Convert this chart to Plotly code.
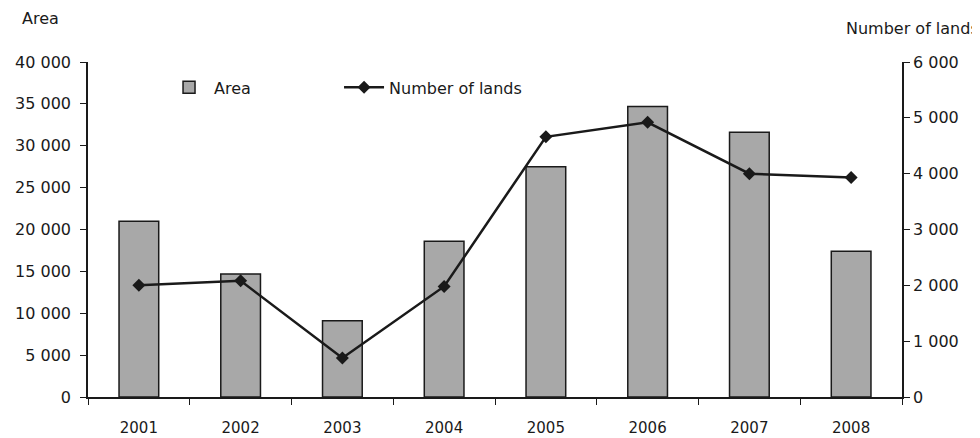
import plotly.graph_objects as go

years = ["2001", "2002", "2003", "2004", "2005", "2006", "2007", "2008"]
area = [21000, 14700, 9100, 18600, 27500, 34700, 31600, 17400]
lands = [2000, 2080, 700, 1980, 4660, 4920, 4000, 3930]

left_ticks = [0, 5000, 10000, 15000, 20000, 25000, 30000, 35000, 40000]
right_ticks = [0, 1000, 2000, 3000, 4000, 5000, 6000]

FONT = "DejaVu Sans"
INK = "#1a1a1a"

fig = go.Figure()
fig.add_trace(go.Bar(
    x=years, y=area, name="Area", width=0.39, legend="legend",
    marker=dict(color="#a8a8a8", line=dict(color=INK, width=1.5)),
))
fig.add_trace(go.Scatter(
    x=years, y=lands, name="Number of lands", yaxis="y2", legend="legend2",
    mode="lines+markers",
    line=dict(color=INK, width=2.5),
    marker=dict(symbol="diamond", size=10, color=INK),
))

leg_common = dict(orientation="h", y=0.975, xanchor="left", yanchor="top",
                  bgcolor="rgba(0,0,0,0)", font=dict(size=16), itemwidth=40)

# page has an 8px body margin, so the figure is sized/offset to compensate
fig.update_layout(
    width=972, height=430,
    margin=dict(l=80, r=78, t=54, b=41, autoexpand=False),
    paper_bgcolor="white", plot_bgcolor="white",
    separators=", ",
    font=dict(family=FONT, size=16, color=INK),
    showlegend=True,
    legend=dict(x=0.0934, **leg_common),
    legend2=dict(x=0.3084, **leg_common),
    xaxis=dict(
        type="category", categoryorder="array", categoryarray=years,
        showline=True, linecolor=INK, linewidth=1.5,
        ticks="outside", ticklen=6, tickcolor=INK, tickson="boundaries",
        showgrid=False, zeroline=False, range=[-0.5, 7.5],
        tickfont=dict(size=15), ticklabelstandoff=16, automargin=False,
    ),
    yaxis=dict(
        range=[0, 40000], tickvals=left_ticks, tickformat=",d",
        showline=True, linecolor=INK, linewidth=1.5,
        ticks="outside", ticklen=6, tickcolor=INK,
        showgrid=False, zeroline=False, tickfont=dict(size=16),
        ticklabelstandoff=6, automargin=False,
    ),
    yaxis2=dict(
        range=[0, 6000], tickvals=right_ticks, tickformat=",d",
        overlaying="y", side="right", anchor="x",
        showline=True, linecolor=INK, linewidth=1.5,
        ticks="outside", ticklen=6, tickcolor=INK,
        showgrid=False, zeroline=False, tickfont=dict(size=16),
        automargin=False,
    ),
    annotations=[
        dict(text="Area", xref="paper", yref="paper", x=-0.0835, y=1.131,
             xanchor="left", yanchor="middle", showarrow=False, font=dict(size=16)),
        dict(text="Number of lands", xref="paper", yref="paper", x=0.929, y=1.101,
             xanchor="left", yanchor="middle", showarrow=False, font=dict(size=16)),
    ],
)

fig.write_html("out.html")
